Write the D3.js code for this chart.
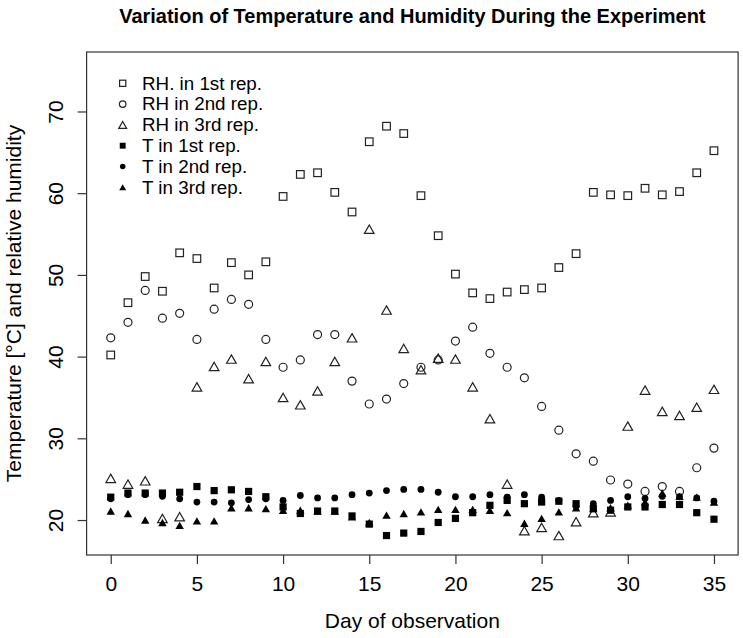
<!DOCTYPE html>
<html><head><meta charset="utf-8">
<script src="https://cdn.jsdelivr.net/npm/d3@7"></script>
<style>
body{margin:0;background:#fff;}
svg{display:block;font-family:"Liberation Sans",Arial,Helvetica,sans-serif;}
</style></head>
<body><svg id="c" width="743" height="638"></svg>
<script>
const days = [0,1,2,3,4,5,6,7,8,9,10,11,12,13,14,15,16,17,18,19,20,21,22,23,24,25,26,27,28,29,30,31,32,33,34,35];
const rh1 = [40.2,46.6,49.8,48.0,52.7,52.0,48.4,51.5,50.0,51.6,59.6,62.3,62.5,60.1,57.7,66.3,68.2,67.3,59.7,54.8,50.1,47.8,47.1,47.9,48.2,48.4,50.9,52.6,60.1,59.8,59.7,60.6,59.8,60.2,62.5,65.2];
const rh2 = [42.3,44.2,48.1,44.7,45.3,42.1,45.8,47.0,46.4,42.1,38.7,39.6,42.7,42.7,37.0,34.2,34.8,36.7,38.7,39.6,41.9,43.6,40.4,38.7,37.4,33.9,31.0,28.1,27.2,24.9,24.4,23.5,24.1,23.5,26.4,28.8];
const rh3 = [25.1,24.4,24.8,20.2,20.4,36.3,38.8,39.7,37.3,39.4,35.0,34.1,35.8,39.4,42.3,55.6,45.7,41.0,38.4,39.8,39.7,36.3,32.4,24.4,18.7,19.1,18.1,19.8,20.9,21.0,31.5,35.9,33.3,32.8,33.8,36.0];
const t1 = [22.8,23.3,23.3,23.3,23.4,24.1,23.6,23.7,23.5,22.85,21.6,20.8,21.1,21.1,20.5,19.5,18.1,18.4,18.6,19.7,20.2,20.9,21.8,22.4,22.0,22.2,22.3,22.0,21.4,21.2,21.6,21.6,21.9,21.9,20.9,20.1];
const t2 = [22.6,23.1,23.1,22.9,22.6,22.2,22.2,22.1,22.5,22.6,22.4,23.0,22.7,22.7,23.1,23.3,23.6,23.75,23.75,23.4,22.85,22.85,23.1,22.8,23.1,22.8,22.4,21.7,22.0,22.4,22.85,22.65,22.9,22.85,22.7,22.3];
const t3 = [21.1,20.8,20.0,19.7,19.35,19.9,19.9,21.5,21.5,21.4,21.2,21.2,21.1,21.1,20.4,19.7,20.6,20.8,21.0,21.3,21.3,21.3,21.2,20.9,19.6,20.2,21.0,21.5,21.4,21.5,21.8,22.2,23.3,22.9,22.8,22.2];
const seriesNames = ["RH. in 1st rep.","RH in 2nd rep.","RH in 3rd rep.","T in 1st rep.","T in 2nd rep.","T in 3rd rep."];
const xTicks = [0,5,10,15,20,25,30,35];
const yTicks = [20,30,40,50,60,70];
const titleText = "Variation of Temperature and Humidity During the Experiment";
const xLabel = "Day of observation";
const yLabel = "Temperature [°C] and relative humidity";

(function () {
const series = [
  {vals: rh1, shape: "square", fill: false},
  {vals: rh2, shape: "circle", fill: false},
  {vals: rh3, shape: "triangle", fill: false},
  {vals: t1, shape: "square", fill: true},
  {vals: t2, shape: "circle", fill: true},
  {vals: t3, shape: "triangle", fill: true}
];

const svg = d3.select("#c");
const pL = 86.6, pR = 738.1, pT = 52, pB = 555;
const x = d3.scaleLinear().domain([-1.4, 36.4]).range([pL, pR]);
const y = d3.scaleLinear().domain([15.72, 77.28]).range([pB, pT]);

function drawSym(g, shape, fill, cx, cy, s) {
  const stroke = fill ? "none" : "#222";
  const f = fill ? "#000" : "none";
  const sw = 1.2;
  if (shape === "square") {
    const h = fill ? 3.6*s : 3.8*s;
    g.append("rect").attr("x", cx-h).attr("y", cy-h).attr("width", 2*h).attr("height", 2*h)
      .attr("fill", f).attr("stroke", stroke).attr("stroke-width", sw);
  } else if (shape === "circle") {
    const r = fill ? 3.4*s : 4.0*s;
    g.append("circle").attr("cx", cx).attr("cy", cy).attr("r", r)
      .attr("fill", f).attr("stroke", stroke).attr("stroke-width", sw);
  } else {
    const hw = fill ? 4.2*s : 4.8*s, hh = fill ? 3.7*s : 4.2*s;
    g.append("path").attr("d", `M${cx},${cy-hh}L${cx+hw},${cy+hh}L${cx-hw},${cy+hh}Z`)
      .attr("fill", f).attr("stroke", stroke).attr("stroke-width", sw).attr("stroke-linejoin","miter");
  }
}

const pg = svg.append("g");
series.forEach(sr => {
  sr.vals.forEach((v, i) => drawSym(pg, sr.shape, sr.fill, x(days[i]), y(v), 1));
});

svg.append("rect").attr("x", pL).attr("y", pT).attr("width", pR-pL).attr("height", pB-pT)
  .attr("fill", "none").attr("stroke", "#333").attr("stroke-width", 1.2);

const xa = svg.append("g").attr("transform", `translate(0,${pB})`)
  .call(d3.axisBottom(x).tickValues(xTicks).tickSize(9).tickSizeOuter(0).tickFormat(d3.format("d")));
xa.select(".domain").remove();
xa.selectAll(".tick line").attr("stroke", "#333").attr("stroke-width", 1.2);
xa.selectAll(".tick text").attr("y", 36).attr("dy", null).attr("font-size", 21)
  .attr("fill", "#000").attr("font-family", '"Liberation Sans",Arial,sans-serif');

const ya = svg.append("g").attr("transform", `translate(${pL},0)`)
  .call(d3.axisLeft(y).tickValues(yTicks).tickSize(9).tickSizeOuter(0).tickFormat(d3.format("d")));
ya.select(".domain").remove();
ya.selectAll(".tick line").attr("stroke", "#333").attr("stroke-width", 1.2);
ya.selectAll(".tick text").attr("x", null).attr("dy", null)
  .attr("transform", "translate(-23.5,0) rotate(-90)")
  .attr("text-anchor", "middle").attr("font-size", 21).attr("fill", "#000")
  .attr("font-family", '"Liberation Sans",Arial,sans-serif');

svg.append("text").attr("x", (pL+pR)/2).attr("y", 23).attr("text-anchor", "middle")
  .attr("font-size", 20).attr("font-weight", "bold").text(titleText);
svg.append("text").attr("x", (pL+pR)/2).attr("y", 628).attr("text-anchor", "middle")
  .attr("font-size", 21).text(xLabel);
svg.append("text").attr("transform", `translate(20.5,${(pT+pB)/2}) rotate(-90)`)
  .attr("text-anchor", "middle").attr("font-size", 21).text(yLabel);

const lg = svg.append("g");
series.forEach((sr, i) => {
  const cy = 83.3 + i*20.8;
  drawSym(lg, sr.shape, sr.fill, 122.7, cy, 0.82);
  lg.append("text").attr("x", 142).attr("y", cy + 6.2).attr("font-size", 18.8).text(seriesNames[i]);
});
})();
</script></body></html>
